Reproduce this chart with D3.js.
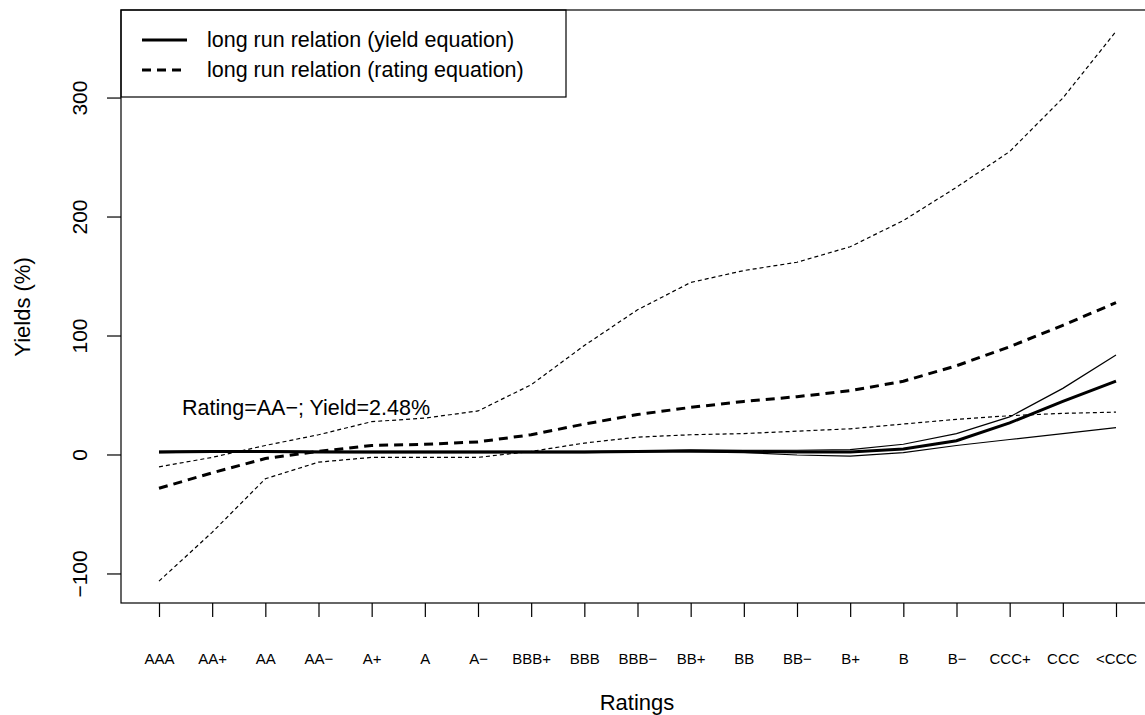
<!DOCTYPE html>
<html><head><meta charset="utf-8">
<script src="https://d3js.org/d3.v7.min.js"></script>
<style>body{margin:0;background:#fff}text{font-family:"Liberation Sans",Arial,sans-serif}</style>
</head><body><svg id="c" width="1145" height="715"></svg>
<script>
const ratings = ["AAA","AA+","AA","AA−","A+","A","A−","BBB+","BBB","BBB−","BB+","BB","BB−","B+","B","B−","CCC+","CCC","<CCC"];
const yieldEq = [2.5,3,3,2.6,2.5,2.5,2.5,2.5,2.5,3,3.5,3,2.5,2.5,5,12,27,45,62];
const yieldUp = [3,3.5,3.5,3,3,3,3,3,3,3.5,4,4,4,4.5,9,18,32,56,84];
const yieldLo = [2,2.5,2.5,2.2,2,2,2,2,2,2.5,2.5,2,0,-1,2,8,13,18,23];
const ratingEq = [-28,-15,-3,3,8,9,11,17,26,34,40,45,49,54,62,75,91,109,128];
const ratingUp = [-10,-2,8,17,28,31,37,59,92,122,145,155,162,175,197,225,255,300,356];
const ratingLo = [-106,-65,-20,-6,-2,-2,-2,3,10,15,17,18,20,22,26,30,33,35,36];
const yTicks = [-100,0,100,200,300];

const svg = d3.select("#c");
const L=121,R=1150,T=10,B=603;
const x = d3.scalePoint().domain(ratings).range([159,1116]);
const y = d3.scaleLinear().domain([-124.4,374]).range([B,T]);
const ya = svg.append("g").attr("transform",`translate(${L},0)`).call(d3.axisLeft(y).tickValues(yTicks).tickSize(14).tickFormat(d=>d<0?"−"+(-d):d));
ya.select(".domain").remove();
ya.selectAll(".tick").attr("transform",null);
ya.selectAll(".tick line").attr("y1",d=>y(d)).attr("y2",d=>y(d)).attr("stroke-width",1.2);
ya.selectAll("text").attr("font-size",21).attr("x",-34).attr("y",d=>y(d)).attr("dy",0).attr("text-anchor","middle")
  .attr("transform",d=>`rotate(-90,-34,${y(d)})`);
const xa = svg.append("g").attr("transform",`translate(0,${B})`).call(d3.axisBottom(x).tickSize(14).tickPadding(36));
xa.select(".domain").remove();
xa.selectAll(".tick line").attr("stroke-width",1.2);
xa.selectAll("text").attr("font-size",15);
const ln = d3.line().x((d,i)=>x(ratings[i])).y(d=>y(d));
const series=[[yieldEq,3,null],[yieldUp,1.2,null],[yieldLo,1.2,null],[ratingEq,3,"9,6"],[ratingUp,1.2,"4,3"],[ratingLo,1.2,"4,3"]];
series.forEach(([d,w,da])=>svg.append("path").attr("d",ln(d)).attr("fill","none").attr("stroke","#000").attr("stroke-width",w).attr("stroke-dasharray",da));
svg.append("text").attr("x",182).attr("y",415).attr("font-size",21.5).text("Rating=AA−; Yield=2.48%");
svg.append("rect").attr("x",L).attr("y",T).attr("width",445).attr("height",87).attr("fill","#fff").attr("stroke","#000").attr("stroke-width",1.2);
[["long run relation (yield equation)",null,40],["long run relation (rating equation)","9,6",70]].forEach(([t,da,yy])=>{
  svg.append("line").attr("x1",142).attr("x2",187).attr("y1",yy).attr("y2",yy).attr("stroke","#000").attr("stroke-width",3).attr("stroke-dasharray",da);
  svg.append("text").attr("x",207).attr("y",yy+7).attr("font-size",21.5).text(t);
});
svg.append("rect").attr("x",L).attr("y",T).attr("width",R-L).attr("height",B-T).attr("fill","none").attr("stroke","#000").attr("stroke-width",1.2);
svg.append("text").attr("x",637).attr("y",710).attr("text-anchor","middle").attr("font-size",22).text("Ratings");
svg.append("text").attr("transform","translate(30,307) rotate(-90)").attr("text-anchor","middle").attr("font-size",22).text("Yields (%)");
</script></body></html>
